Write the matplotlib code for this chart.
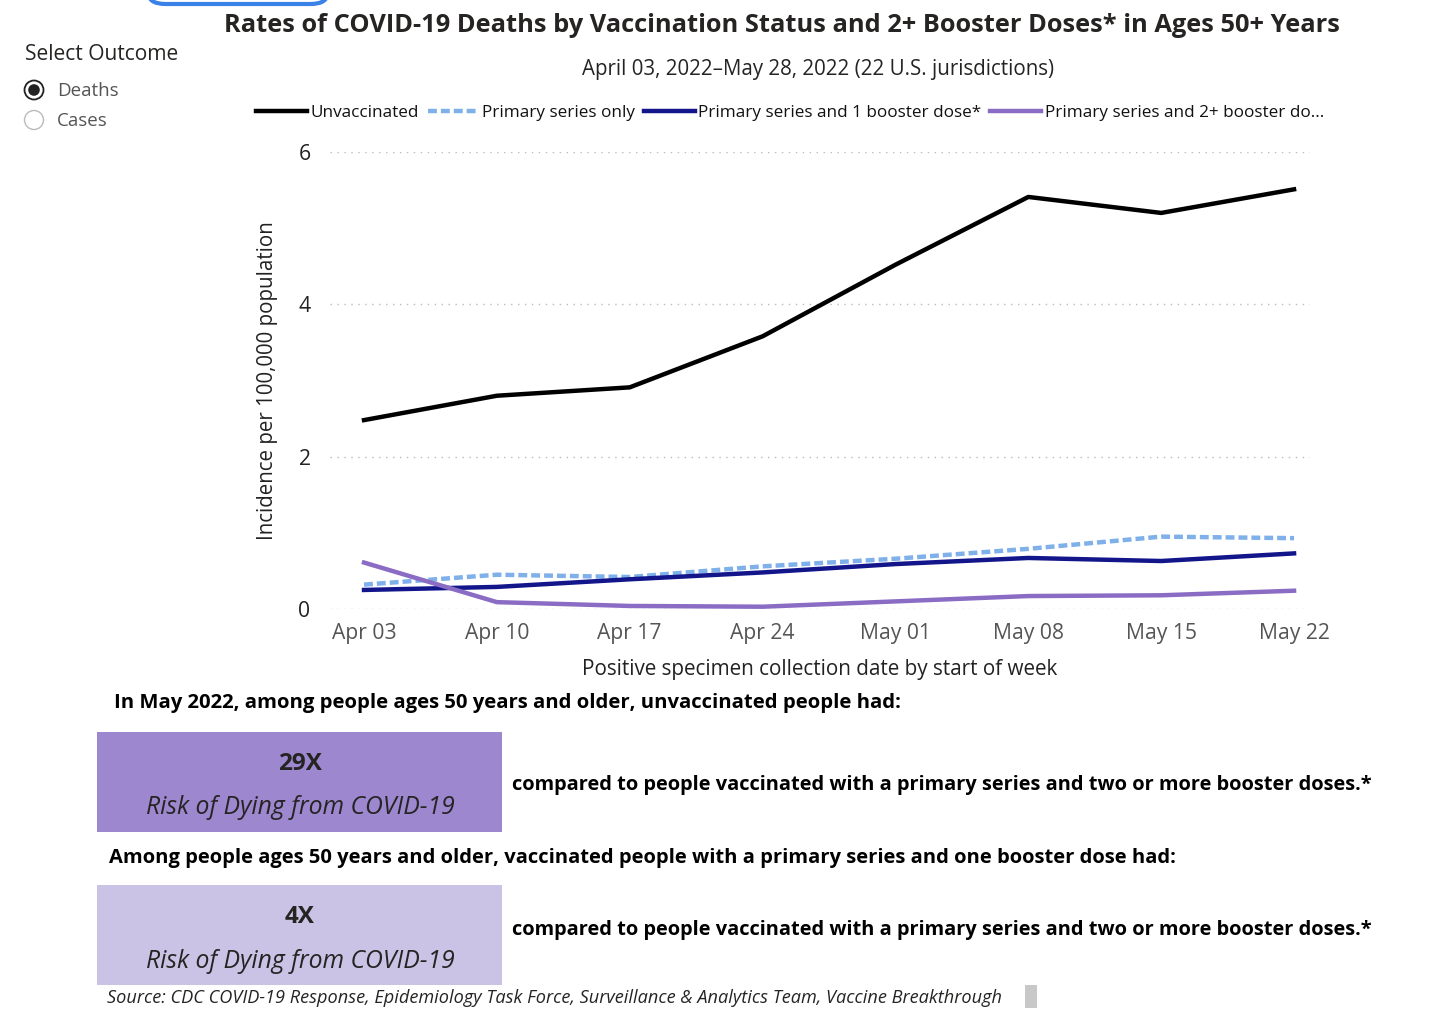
import matplotlib.pyplot as plt
from matplotlib.patches import FancyBboxPatch, Rectangle, Circle
from matplotlib.lines import Line2D

plt.rcParams['font.family'] = ['Open Sans', 'DejaVu Sans']

W, H = 1456, 1018

# weekly data, deaths per 100,000, ages 50+
weeks = ['Apr 03', 'Apr 10', 'Apr 17', 'Apr 24', 'May 01', 'May 08', 'May 15', 'May 22']
unvax = [2.48, 2.80, 2.91, 3.58, 4.52, 5.41, 5.20, 5.51]
primary_only = [0.32, 0.45, 0.42, 0.56, 0.66, 0.79, 0.95, 0.93]
one_booster = [0.25, 0.29, 0.39, 0.48, 0.59, 0.67, 0.63, 0.73]
two_booster = [0.61, 0.09, 0.04, 0.03, 0.10, 0.17, 0.18, 0.24]

yticks = [0, 2, 4, 6]


def fx(x):
    return x / W


def fy(y):
    return 1 - y / H


fig = plt.figure(figsize=(W / 100, H / 100), dpi=100)

# main plot area
ax = fig.add_axes([fx(330), fy(609), fx(1310) - fx(330), fy(152) - fy(609)])
x = list(range(len(weeks)))
l1, = ax.plot(x, unvax, color='black', lw=3.2, clip_on=False, zorder=5)
l2, = ax.plot(x, primary_only, color='#7fb0ea', lw=3.2, ls=(0, (2, 0.9)), clip_on=False, zorder=4)
l3, = ax.plot(x, one_booster, color='#12168a', lw=3.2, clip_on=False, zorder=4)
l4, = ax.plot(x, two_booster, color='#8a6cc4', lw=3.2, clip_on=False, zorder=4)

ax.set_xlim(-0.256, 7.12)
ax.set_ylim(0, 6)
ax.set_yticks(yticks)
ax.set_xticks(x)
ax.set_xticklabels(weeks)
ax.tick_params(length=0, labelsize=15.2, pad=10)
ax.tick_params(axis='y', labelcolor='#222222', pad=14)
ax.tick_params(axis='x', labelcolor='#555555')
ax.grid(axis='y', color='#bbbbbb', ls=(0, (1, 4)), lw=1)
for s in ax.spines.values():
    s.set_visible(False)
ax.set_xlabel('Positive specimen collection date by start of week', fontsize=14.9, color='#222222', labelpad=11)
ax.set_ylabel('Incidence per 100,000 population', fontsize=14.8, color='#222222', labelpad=15)

# title and subtitle
fig.text(fx(782), fy(25), 'Rates of COVID-19 Deaths by Vaccination Status and 2+ Booster Doses* in Ages 50+ Years',
         ha='center', va='center', fontsize=18.3, fontweight='bold', color='#252423')
fig.text(fx(818), fy(70), 'April 03, 2022\u2013May 28, 2022 (22 U.S. jurisdictions)',
         ha='center', va='center', fontsize=14.8, color='#252423')

# legend
leg = fig.legend([l1, l2, l3, l4],
                 ['Unvaccinated', 'Primary series only', 'Primary series and 1 booster dose*',
                  'Primary series and 2+ booster do...'],
                 loc='center', bbox_to_anchor=(fx(790), fy(113)), ncol=4, frameon=False,
                 fontsize=12.3, handlelength=3.0, handletextpad=0.2, columnspacing=0.5)
for t in leg.get_texts():
    t.set_color('#111111')

# slicer on the left
fig.text(fx(25), fy(54), 'Select Outcome', ha='left', va='center', fontsize=15.1, color='#252423')
tr = fig.dpi_scale_trans
fig.patches.append(Circle((0.34, (H - 90) / 100), 0.095, transform=tr,
                          facecolor='white', edgecolor='#222222', lw=1.3))
fig.patches.append(Circle((0.34, (H - 90) / 100), 0.058, transform=tr,
                          facecolor='#222222', edgecolor='none'))
fig.patches.append(Circle((0.34, (H - 120) / 100), 0.095, transform=tr,
                          facecolor='white', edgecolor='#bbbbbb', lw=1))
fig.text(fx(57), fy(91), 'Deaths', ha='left', va='center', fontsize=13.5, color='#555555')
fig.text(fx(57), fy(121), 'Cases', ha='left', va='center', fontsize=13.5, color='#555555')

# partial button at the very top
fig.patches.append(FancyBboxPatch((fx(148), fy(4)), fx(180), 40 / H, transform=fig.transFigure,
                                  boxstyle='round,pad=0,rounding_size=0.012',
                                  facecolor='white', edgecolor='#3b82e8', lw=3, clip_on=False))

# summary boxes
fig.text(fx(114), fy(703), 'In May 2022, among people ages 50 years and older, unvaccinated people had:',
         ha='left', va='center', fontsize=14.6, fontweight='bold', color='black')
fig.patches.append(Rectangle((fx(97), fy(832)), fx(405), 100 / H, transform=fig.transFigure,
                             facecolor='#9d88cf', edgecolor='none'))
fig.text(fx(300), fy(764), '29X', ha='center', va='center', fontsize=17.5, fontweight='bold', color='#252423')
fig.text(fx(300), fy(808), 'Risk of Dying from COVID-19', ha='center', va='center', fontsize=17.8,
         style='italic', color='#252423')
fig.text(fx(512), fy(785), 'compared to people vaccinated with a primary series and two or more booster doses.*',
         ha='left', va='center', fontsize=14.4, fontweight='bold', color='black')

fig.text(fx(109), fy(858), 'Among people ages 50 years and older, vaccinated people with a primary series and one booster dose had:',
         ha='left', va='center', fontsize=14.5, fontweight='bold', color='black')
fig.patches.append(Rectangle((fx(97), fy(985)), fx(405), 100 / H, transform=fig.transFigure,
                             facecolor='#cbc3e6', edgecolor='none'))
fig.text(fx(300), fy(917), '4X', ha='center', va='center', fontsize=17.5, fontweight='bold', color='#252423')
fig.text(fx(300), fy(961), 'Risk of Dying from COVID-19', ha='center', va='center', fontsize=17.8,
         style='italic', color='#252423')
fig.text(fx(512), fy(930), 'compared to people vaccinated with a primary series and two or more booster doses.*',
         ha='left', va='center', fontsize=14.4, fontweight='bold', color='black')

fig.text(fx(107), fy(998), 'Source: CDC COVID-19 Response, Epidemiology Task Force, Surveillance & Analytics Team, Vaccine Breakthrough',
         ha='left', va='center', fontsize=13.1, style='italic', color='#252423')
fig.patches.append(Rectangle((fx(1025), fy(1008)), fx(12), 23 / H, transform=fig.transFigure,
                             facecolor='#c8c8c8', edgecolor='none'))

fig.savefig('out.png', dpi=100)
